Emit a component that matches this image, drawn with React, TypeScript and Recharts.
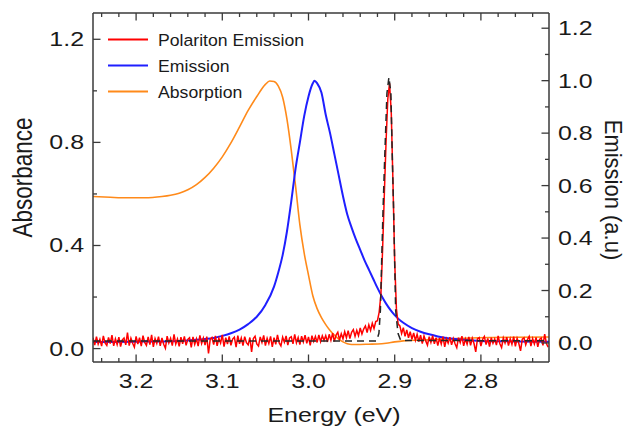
import React from 'react';
import { ComposedChart, Line, XAxis, YAxis, Legend, Label } from 'recharts';

// ---------- data ----------
const absorptionEnergy = [
  3.25, 3.23, 3.21, 3.19, 3.17, 3.16, 3.15, 3.14, 3.13, 3.12, 3.11,
  3.1, 3.09, 3.08, 3.07, 3.06, 3.05, 3.045, 3.04, 3.035, 3.03,
  3.025, 3.02, 3.015, 3.01, 3.005, 3.0, 2.995, 2.99, 2.985, 2.98,
  2.975, 2.97, 2.965, 2.96, 2.955, 2.95, 2.94, 2.93, 2.92, 2.91,
  2.9, 2.89, 2.87, 2.85, 2.82, 2.79, 2.76, 2.721,
];
const absorptionValue = [
  0.590, 0.587, 0.585, 0.585, 0.590, 0.595, 0.603, 0.616, 0.636, 0.664, 0.700,
  0.744, 0.798, 0.860, 0.924, 0.978, 1.025, 1.038, 1.036, 1.018, 0.975,
  0.89, 0.77, 0.63, 0.48, 0.37, 0.285, 0.205, 0.155, 0.12, 0.093,
  0.07, 0.052, 0.037, 0.026, 0.019, 0.016, 0.016, 0.017, 0.018, 0.021,
  0.026, 0.030, 0.033, 0.036, 0.040, 0.043, 0.044, 0.045,
];

const emissionEnergy = [
  3.25, 3.2, 3.15, 3.13, 3.12, 3.11, 3.1, 3.09, 3.08, 3.07,
  3.06, 3.05, 3.04, 3.035, 3.03, 3.025, 3.02, 3.015, 3.01, 3.005,
  3.0, 2.995, 2.993, 2.99, 2.985, 2.98, 2.975, 2.97, 2.965, 2.96,
  2.955, 2.95, 2.945, 2.94, 2.935, 2.93, 2.925, 2.92, 2.915, 2.91,
  2.905, 2.9, 2.895, 2.89, 2.88, 2.87, 2.86, 2.85, 2.84, 2.82,
  2.8, 2.76, 2.721,
];
const emissionValue = [
  0.004, 0.005, 0.008, 0.012, 0.015, 0.019, 0.027, 0.037, 0.051, 0.072,
  0.100, 0.145, 0.215, 0.27, 0.335, 0.425, 0.54, 0.665, 0.765, 0.865,
  0.94, 0.99, 1.0, 0.99, 0.955, 0.87, 0.80, 0.72, 0.64, 0.56,
  0.49, 0.44, 0.395, 0.355, 0.315, 0.28, 0.245, 0.21, 0.178, 0.15,
  0.126, 0.106, 0.09, 0.077, 0.057, 0.043, 0.033, 0.025, 0.019, 0.012,
  0.008, 0.006, 0.005,
];

// polariton emission: sampled every 0.002 eV starting at 3.25 eV
const polaritonStart = 3.25;
const polaritonStep = 0.002;
const polaritonValue = [
  0.020, -0.008, 0.024, -0.004, 0.014, -0.012, 0.027, 0.000, -0.009, 0.021,
  -0.002, 0.030, -0.011, 0.016, -0.006, 0.022, -0.014, 0.012, 0.019, -0.007,
  0.040, -0.010, 0.018, -0.001, -0.016, 0.025, -0.004, 0.020, -0.012, 0.028,
  0.002, -0.009, 0.023, -0.006, 0.031, -0.015, 0.017, -0.002, 0.024, -0.011,
  0.019, -0.005, -0.020, 0.026, 0.000, 0.018, -0.010, 0.033, -0.004, 0.015,
  -0.013, 0.022, -0.003, 0.025, -0.009, 0.014, 0.020, -0.017, 0.023, -0.005,
  0.016, -0.012, 0.029, -0.002, 0.019, -0.008, 0.024, -0.040, 0.015, 0.021,
  -0.006, 0.027, -0.011, 0.018, 0.000, 0.031, -0.014, 0.020, -0.004, 0.025,
  -0.009, 0.015, 0.022, -0.016, 0.028, -0.003, 0.019, -0.010, 0.024, 0.001,
  -0.007, 0.021, -0.034, 0.017, 0.026, -0.004, -0.012, 0.023, 0.002, 0.029,
  -0.010, 0.018, -0.002, 0.025, -0.015, 0.020, -0.005, 0.031, 0.000, -0.011,
  0.022, 0.003, 0.027, -0.008, 0.019, 0.024, -0.003, 0.033, 0.001, 0.021,
  -0.006, 0.026, 0.004, 0.030, -0.001, 0.023, -0.009, 0.028, 0.006, 0.025,
  0.002, 0.031, 0.005, 0.027, 0.010,
  0.028, 0.004, 0.033, 0.010, 0.037, 0.006, 0.030, 0.041, 0.012, 0.035,
  0.016, 0.043, 0.020, 0.047, 0.017, 0.041, 0.051, 0.025, 0.048, 0.028,
  0.057, 0.034, 0.053, 0.065, 0.040, 0.069, 0.048, 0.075, 0.055, 0.082,
  0.085, 0.118, 0.185, 0.36, 0.57, 0.77, 0.93, 0.99, 0.88, 0.61,
  0.31, 0.13, 0.072,
  0.065, 0.036, 0.058, 0.025, 0.050, 0.020, 0.043, 0.014, 0.038, 0.010,
  0.033, 0.005, 0.030, -0.002, 0.027, 0.008, -0.008, 0.024, 0.002, 0.028,
  -0.003, 0.020,
  -0.010, 0.019, -0.004, 0.024, -0.015, 0.016, -0.001, 0.022, -0.007, 0.017,
  -0.003, -0.018, 0.020, 0.001, 0.026, -0.011, 0.015, -0.005, 0.023, -0.009,
  0.018, -0.002, -0.034, 0.016, 0.021, -0.012, 0.014, 0.025, -0.006, 0.017,
  -0.014, 0.020, -0.001, 0.015, -0.008, 0.027, -0.003, -0.017, 0.019, 0.000,
  0.022, -0.010, 0.016, -0.005, 0.024, -0.013, 0.018, -0.002, -0.030, 0.015,
  0.020, -0.007, 0.013, 0.025, -0.012, 0.017, -0.004, 0.021, -0.015, 0.014,
  0.019, -0.009, 0.034, -0.002, -0.016,
];

const fitEnergy = [
  3.25, 2.921, 2.9183, 2.9166, 2.9151, 2.9136, 2.9117, 2.909, 2.9067,
  2.9044, 2.9027, 2.9012, 2.9001, 2.8989, 2.8962, 2.893, 2.721,
];
const fitValue = [
  0.008, 0.008, 0.037, 0.125, 0.316, 0.5, 0.697, 0.952, 1.013,
  0.952, 0.697, 0.5, 0.316, 0.125, 0.037, 0.01, 0.008,
];

const xTicks = [
  3.24, 3.22, 3.2, 3.18, 3.16, 3.14, 3.12, 3.1, 3.08, 3.06, 3.04, 3.02, 3.0,
  2.98, 2.96, 2.94, 2.92, 2.9, 2.88, 2.86, 2.84, 2.82, 2.8, 2.78, 2.76, 2.74,
];
const xMajorTicks = [3.2, 3.1, 3.0, 2.9, 2.8];
const leftTicks = [0, 0.2, 0.4, 0.6, 0.8, 1.0, 1.2];
const leftMajorTicks = [0, 0.4, 0.8, 1.2];
const rightTicks = [0, 0.1, 0.2, 0.3, 0.4, 0.5, 0.6, 0.7, 0.8, 0.9, 1.0, 1.1, 1.2];
const rightMajorTicks = [0, 0.2, 0.4, 0.6, 0.8, 1.0, 1.2];

const xDomain = [2.721, 3.25];
const leftDomain = [-0.052, 1.302];
const rightDomain = [-0.0725, 1.258];

const legendOrder = ['Polariton Emission', 'Emission', 'Absorption'];

// ---------- built tables ----------
const absorptionData = absorptionEnergy.map((e, i) => ({ energy: e, value: absorptionValue[i] }));
const emissionData = emissionEnergy.map((e, i) => ({ energy: e, value: emissionValue[i] }));
const polaritonData = polaritonValue.map((v, i) => ({
  energy: Math.round((polaritonStart - i * polaritonStep) * 10000) / 10000,
  value: v,
}));
const fitData = fitEnergy.map((e, i) => ({ energy: e, value: fitValue[i] }));

// ---------- styles ----------
const FONT = "'Liberation Sans', Arial, Helvetica, sans-serif";
const AXIS_COLOR = '#3a3a3a';
const TEXT_COLOR = '#1a1a1a';
const COLOR_POLARITON = '#ff0000';
const COLOR_EMISSION = '#1f1fff';
const COLOR_ABSORPTION = '#ff8a1a';
const COLOR_FIT = '#262626';
const MAJOR_LEN = 7.5;
const MINOR_LEN = 4;
const TICK_FONT = 19.5;
const TICK_STRETCH = 1.28;

const isIn = (v: number, arr: number[]) => arr.some((t) => Math.abs(t - v) < 1e-6);

const BottomTick = (props: any) => {
  const { x, y, payload } = props;
  const major = isIn(payload.value, xMajorTicks);
  return (
    <g>
      <line x1={x} x2={x} y1={y} y2={y - (major ? MAJOR_LEN : MINOR_LEN)} stroke={AXIS_COLOR} strokeWidth={1.3} />
      {major && (
        <text
          transform={`translate(${x},${y + 25.6}) scale(${TICK_STRETCH},1)`}
          textAnchor="middle"
          fontSize={TICK_FONT}
          fontFamily={FONT}
          fill={TEXT_COLOR}
        >
          {Number(payload.value).toFixed(1)}
        </text>
      )}
    </g>
  );
};

const TopTick = (props: any) => {
  const { x, y, payload } = props;
  const major = isIn(payload.value, xMajorTicks);
  return <line x1={x} x2={x} y1={y} y2={y + (major ? MAJOR_LEN : MINOR_LEN)} stroke={AXIS_COLOR} strokeWidth={1.3} />;
};

const LeftTick = (props: any) => {
  const { x, y, payload } = props;
  const major = isIn(payload.value, leftMajorTicks);
  return (
    <g>
      <line x1={x} x2={x + (major ? MAJOR_LEN : MINOR_LEN)} y1={y} y2={y} stroke={AXIS_COLOR} strokeWidth={1.3} />
      {major && (
        <text
          transform={`translate(${x - 9},${y + 7}) scale(${TICK_STRETCH},1)`}
          textAnchor="end"
          fontSize={TICK_FONT}
          fontFamily={FONT}
          fill={TEXT_COLOR}
        >
          {Number(payload.value).toFixed(1)}
        </text>
      )}
    </g>
  );
};

const RightTick = (props: any) => {
  const { x, y, payload } = props;
  const major = isIn(payload.value, rightMajorTicks);
  return (
    <g>
      <line x1={x} x2={x - (major ? MAJOR_LEN : MINOR_LEN)} y1={y} y2={y} stroke={AXIS_COLOR} strokeWidth={1.3} />
      {major && (
        <text
          transform={`translate(${x + 9},${y + 7}) scale(${TICK_STRETCH},1)`}
          textAnchor="start"
          fontSize={TICK_FONT}
          fontFamily={FONT}
          fill={TEXT_COLOR}
        >
          {Number(payload.value).toFixed(1)}
        </text>
      )}
    </g>
  );
};

const renderEnergyTitle = (props: any) => {
  const vb = props.viewBox || { x: 93, y: 362, width: 456, height: 45 };
  return (
    <text
      transform={`translate(${vb.x + vb.width / 2 + 13},${vb.y + 59.7}) scale(1.28,1)`}
      textAnchor="middle"
      fontSize={19.5}
      fontFamily={FONT}
      fill={TEXT_COLOR}
    >
      Energy (eV)
    </text>
  );
};

const renderAbsorbanceTitle = (props: any) => {
  const vb = props.viewBox || { x: 33, y: 13, width: 60, height: 349 };
  return (
    <text
      transform={`translate(${vb.x - 1.3},${vb.y + vb.height / 2 - 10}) scale(1.2,1) rotate(-90)`}
      textAnchor="middle"
      fontSize={22.5}
      fontFamily={FONT}
      fill={TEXT_COLOR}
    >
      Absorbance
    </text>
  );
};

const renderEmissionTitle = (props: any) => {
  const vb = props.viewBox || { x: 549, y: 13, width: 60, height: 349 };
  return (
    <text
      transform={`translate(${vb.x + 56},${vb.y + vb.height / 2 + 2.5}) scale(1.08,1) rotate(90)`}
      textAnchor="middle"
      fontSize={22}
      fontFamily={FONT}
      fill={TEXT_COLOR}
    >
      Emission (a.u)
    </text>
  );
};

const renderLegend = (props: any) => {
  const payload = (props && props.payload) || [];
  const items = legendOrder
    .map((name) => payload.find((p: any) => p.value === name))
    .filter(Boolean);
  return (
    <svg width={230} height={85} style={{ display: 'block', overflow: 'visible' }}>
      {items.map((p: any, i: number) => (
        <g key={p.value}>
          <line x1={8} x2={48} y1={14.5 + i * 26} y2={14.5 + i * 26} stroke={p.color} strokeWidth={1.8} />
          <text
            transform={`translate(58,${20.7 + i * 26}) scale(1.07,1)`}
            fontSize={16.5}
            fontFamily={FONT}
            fill={TEXT_COLOR}
          >
            {p.value}
          </text>
        </g>
      ))}
    </svg>
  );
};

const axisLine = { stroke: AXIS_COLOR, strokeWidth: 1.5 };

export default function App() {
  return (
    <div style={{ position: 'absolute', left: 0, top: 0, width: 628, height: 427, background: '#ffffff' }}>
      <ComposedChart width={628} height={427} margin={{ top: 8, right: 19, bottom: 20, left: 33 }}>
        <XAxis
          xAxisId="x"
          dataKey="energy"
          type="number"
          domain={xDomain}
          reversed
          allowDataOverflow
          ticks={xTicks}
          interval={0}
          tickSize={0}
          tickMargin={0}
          tickLine={false}
          axisLine={axisLine}
          tick={(p: any) => <BottomTick {...p} />}
          height={45}
        >
          <Label content={renderEnergyTitle} />
        </XAxis>
        <XAxis
          xAxisId="top"
          orientation="top"
          dataKey="energy"
          type="number"
          domain={xDomain}
          reversed
          allowDataOverflow
          ticks={xTicks}
          interval={0}
          tickSize={0}
          tickMargin={0}
          tickLine={false}
          axisLine={axisLine}
          tick={(p: any) => <TopTick {...p} />}
          height={5}
        />
        <YAxis
          yAxisId="left"
          type="number"
          domain={leftDomain}
          allowDataOverflow
          ticks={leftTicks}
          interval={0}
          tickSize={0}
          tickMargin={0}
          tickLine={false}
          axisLine={axisLine}
          tick={(p: any) => <LeftTick {...p} />}
          width={60}
        >
          <Label content={renderAbsorbanceTitle} />
        </YAxis>
        <YAxis
          yAxisId="right"
          orientation="right"
          type="number"
          domain={rightDomain}
          allowDataOverflow
          ticks={rightTicks}
          interval={0}
          tickSize={0}
          tickMargin={0}
          tickLine={false}
          axisLine={axisLine}
          tick={(p: any) => <RightTick {...p} />}
          width={60}
        >
          <Label content={renderEmissionTitle} />
        </YAxis>

        <Line
          name="Absorption"
          data={absorptionData}
          dataKey="value"
          xAxisId="x"
          yAxisId="left"
          type="monotone"
          stroke={COLOR_ABSORPTION}
          strokeWidth={1.6}
          dot={false}
          activeDot={false}
          isAnimationActive={false}
        />
        <Line
          name="Emission"
          data={emissionData}
          dataKey="value"
          xAxisId="x"
          yAxisId="right"
          type="monotone"
          stroke={COLOR_EMISSION}
          strokeWidth={2}
          dot={false}
          activeDot={false}
          isAnimationActive={false}
        />
        <Line
          name="Polariton Emission"
          data={polaritonData}
          dataKey="value"
          xAxisId="x"
          yAxisId="right"
          type="linear"
          stroke={COLOR_POLARITON}
          strokeWidth={1.5}
          dot={false}
          activeDot={false}
          isAnimationActive={false}
        />
        <Line
          name="Fit"
          data={fitData}
          dataKey="value"
          xAxisId="x"
          yAxisId="right"
          type="linear"
          stroke={COLOR_FIT}
          strokeWidth={1.5}
          strokeDasharray="7 5"
          dot={false}
          activeDot={false}
          legendType="none"
          isAnimationActive={false}
        />

        <Legend
          layout="vertical"
          align="center"
          verticalAlign="middle"
          wrapperStyle={{ left: 100, top: 25, width: 230, height: 85 }}
          content={renderLegend}
        />
      </ComposedChart>
    </div>
  );
}
